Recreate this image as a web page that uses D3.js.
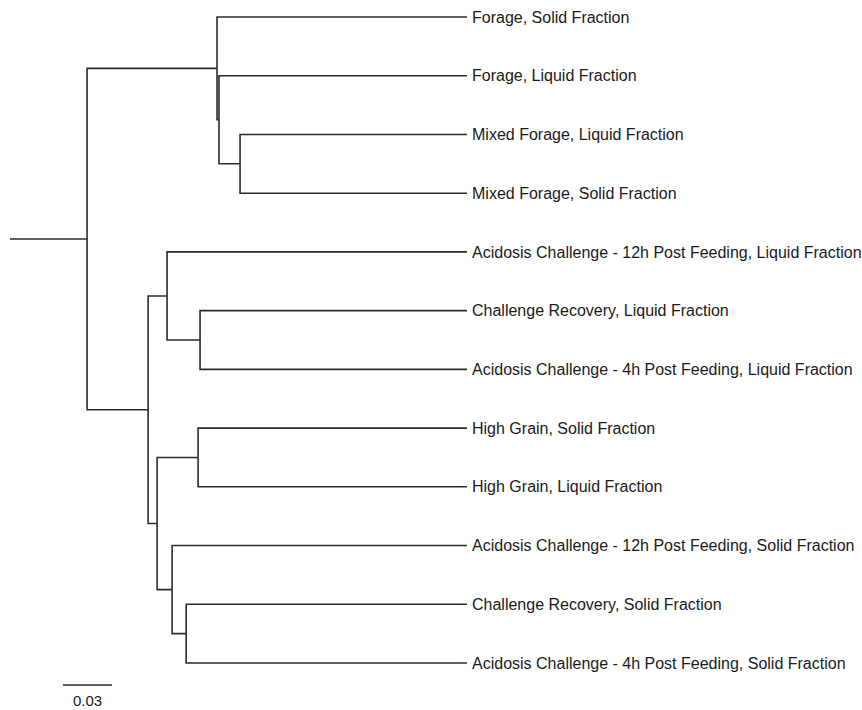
<!DOCTYPE html>
<html>
<head>
<meta charset="utf-8">
<script src="https://cdn.jsdelivr.net/npm/d3@7"></script>
<style>
  html, body { margin: 0; padding: 0; background: #fff; }
  svg { display: block; }
</style>
</head>
<body>
<svg id="chart" width="862" height="710"></svg>
<script>
// ---- Data: tree nodes (id, parent, branch length in substitution units) ----
// leaves are listed in top-to-bottom drawing order
const nodeIds = [
  "root", "A", "B", "C", "D", "E", "F", "G", "H", "I", "J",
  "Forage, Solid Fraction",
  "Forage, Liquid Fraction",
  "Mixed Forage, Liquid Fraction",
  "Mixed Forage, Solid Fraction",
  "Acidosis Challenge - 12h Post Feeding, Liquid Fraction",
  "Challenge Recovery, Liquid Fraction",
  "Acidosis Challenge - 4h Post Feeding, Liquid Fraction",
  "High Grain, Solid Fraction",
  "High Grain, Liquid Fraction",
  "Acidosis Challenge - 12h Post Feeding, Solid Fraction",
  "Challenge Recovery, Solid Fraction",
  "Acidosis Challenge - 4h Post Feeding, Solid Fraction"
];
const nodeParents = [
  "", "root", "A", "B", "root", "D", "E", "D", "G", "G", "I",
  "A", "B", "C", "C",
  "E", "F", "F",
  "H", "H",
  "I", "J", "J"
];
const branchLengths = [
  0.0472, 0.0796, 0.0012, 0.0129, 0.0374, 0.0116, 0.0202, 0.0055, 0.0251, 0.0092, 0.0086,
  0.1531, 0.1519, 0.1390, 0.1390,
  0.1837, 0.1635, 0.1635,
  0.1647, 0.1647,
  0.1806, 0.1720, 0.1720
];
const scaleBarValue = 0.03;
const scaleBarLabel = "0.03";

// ---- Build hierarchy ----
const table = nodeIds.map((id, i) => ({ id, parent: nodeParents[i] || null, len: branchLengths[i], idx: i }));
const root = d3.stratify().id(d => d.id).parentId(d => d.parent)(table);

// order siblings by first leaf index in subtree
root.eachAfter(n => { n.key = n.children ? d3.min(n.children, c => c.key) : n.data.idx; });
root.sort((a, b) => a.key - b.key);

// cumulative distance (root stub included)
root.eachBefore(n => { n.dist = (n.parent ? n.parent.dist : 0) + n.data.len; });
const maxDist = d3.max(root.leaves(), d => d.dist);

// vertical layout: evenly spaced leaves, internal nodes at midpoint of children
const leaves = root.leaves();
leaves.forEach((l, i) => { l.pos = i; });
root.eachAfter(n => { if (n.children) n.pos = (n.children[0].pos + n.children[n.children.length - 1].pos) / 2; });

const x = d3.scaleLinear().domain([0, maxDist]).range([10, 467]);
const y = d3.scaleLinear().domain([0, leaves.length - 1]).range([17, 663]);

const svg = d3.select("#chart");
const stroke = "#2b2b2b";
const sw = 1.6;
const g = svg.append("g");

// root stub
g.append("line")
  .attr("x1", x(0)).attr("x2", x(root.dist))
  .attr("y1", y(root.pos)).attr("y2", y(root.pos))
  .attr("stroke", stroke).attr("stroke-width", sw);

// elbow links
g.selectAll("path.link")
  .data(root.links())
  .join("path")
  .attr("class", "link")
  .attr("fill", "none")
  .attr("stroke", stroke)
  .attr("stroke-width", sw)
  .attr("d", l => `M${x(l.source.dist)},${y(l.source.pos)}V${y(l.target.pos)}H${x(l.target.dist)}`);

// leaf labels
g.selectAll("text.leaf")
  .data(leaves)
  .join("text")
  .attr("class", "leaf")
  .attr("x", d => x(d.dist) + 5)
  .attr("y", d => y(d.pos))
  .attr("dy", "0.35em")
  .attr("font-family", "'Liberation Sans', Arial, sans-serif")
  .attr("font-size", 16)
  .attr("fill", "#1a1a1a")
  .text(d => d.id);

// scale bar
const sbX0 = 63;
const sbLen = x(scaleBarValue) - x(0);
svg.append("line")
  .attr("x1", sbX0).attr("x2", sbX0 + sbLen)
  .attr("y1", 685).attr("y2", 685)
  .attr("stroke", stroke).attr("stroke-width", sw);
svg.append("text")
  .attr("x", sbX0 + sbLen / 2)
  .attr("y", 706)
  .attr("text-anchor", "middle")
  .attr("font-family", "'Liberation Sans', Arial, sans-serif")
  .attr("font-size", 15)
  .attr("fill", "#1a1a1a")
  .text(scaleBarLabel);
</script>
</body>
</html>
